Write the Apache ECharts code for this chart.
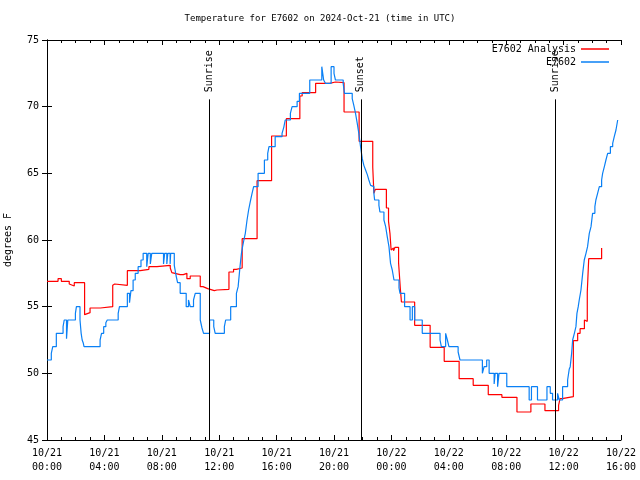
<!DOCTYPE html>
<html>
<head>
<meta charset="utf-8">
<script src="https://cdn.jsdelivr.net/npm/echarts@6/dist/echarts.min.js"></script>
<style>html,body{margin:0;padding:0;background:#fff}#c{width:640px;height:480px}</style>
</head>
<body>
<div id="c"></div>
<script>
// hours since 10/21 00:00 UTC, value in degrees F (value holds until next point)
const analysisTimes = [0,0.77,1.0,1.55,1.66,1.9,2.62,2.72,3.0,3.72,3.85,4.58,4.65,4.72,5.6,6.5,7.1,7.66,8.59,8.7,8.82,9.28,9.4,9.5,9.75,9.98,10.68,10.87,11.2,11.66,11.84,12.68,13.0,13.19,13.6,14.64,15.65,16.68,17.62,17.78,18.72,19.7,20.1,20.7,21.75,22.7,22.78,22.88,23.65,23.8,23.9,23.98,24.05,24.15,24.25,24.5,24.62,24.7,25.62,26.7,27.68,28.72,29.7,30.75,31.7,32.75,33.72,34.7,35.65,35.75,35.9,36.68,36.98,37.15,37.45,37.5,37.65,37.75,38.65];
const analysisValues = [56.9,57.1,56.9,56.7,56.55,56.8,54.4,54.55,54.9,54.8,55,56.6,56.7,56.6,57.7,57.8,58.0,58.1,57.9,57.55,57.4,57.5,57.4,57.5,57.1,57.3,56.5,56.35,56.2,56.25,56.3,57.6,57.8,57.9,60.1,64.45,67.8,69.1,70.8,71.05,71.75,71.85,71.8,69.6,67.4,65.45,63.5,63.8,62.4,61.4,60.5,59.25,59.4,59.2,59.45,58.3,56.4,55.35,53.6,51.95,50.9,49.6,49.1,48.4,48.2,47.1,47.7,47.2,47.6,48.1,48.25,52.45,53,53.35,54,53.9,56.1,58.6,59.4];

const obsTimes = [0,0.3,0.4,0.65,1.12,1.2,1.36,1.45,1.98,2.05,2.3,2.38,2.45,2.52,2.58,3.7,3.8,3.95,4.1,4.2,4.96,5.05,5.6,5.75,5.85,6.0,6.15,6.35,6.55,6.7,6.95,7.05,7.2,7.3,8.12,8.2,8.35,8.42,8.58,8.62,8.87,9.0,9.1,9.28,9.7,9.86,9.98,10.21,10.33,10.68,10.8,10.91,11.33,11.62,11.72,12.36,12.45,12.8,13.2,13.32,13.45,13.55,13.63,13.72,13.82,13.94,14.05,14.17,14.29,14.4,14.71,15.15,15.38,15.47,15.9,16.38,16.5,16.6,16.96,17.08,17.43,17.59,18.31,19.15,19.28,19.4,19.8,20.0,20.1,20.64,20.73,21.27,21.38,21.5,21.62,21.73,21.85,21.97,22.08,22.2,22.32,22.43,22.55,22.66,22.78,22.83,23.13,23.2,23.48,23.6,23.71,23.83,23.94,24.06,24.18,24.53,24.6,24.92,25.3,25.46,25.62,26.15,27.39,27.48,27.78,27.9,28.01,28.65,28.78,30.34,30.46,30.64,30.81,31.16,31.23,31.4,31.5,32.04,33.6,33.76,34.18,34.84,35.07,35.23,35.58,35.7,35.93,36.28,36.39,36.46,36.56,36.63,36.75,36.86,36.93,37.02,37.09,37.21,37.33,37.44,37.56,37.67,37.79,37.91,38.02,38.18,38.25,38.37,38.49,38.65,38.72,38.84,38.95,39.07,39.26,39.42,39.53,39.65,39.77,39.8];
const obsValues = [51,51.5,52,53,53.5,54,52.6,54,54.5,55,54,53,52.5,52.3,52,52.5,53,53.5,53.8,54,54.5,55,56,55.3,56.2,57,57.5,58,58.5,59,58,59,58.2,59,58.2,59,58.2,59,58.2,59,58.1,57.3,56.8,56,55,55.5,55,55.5,56,54,53.4,53,54,53.5,53,53.5,54,55,56,56.5,58,59,59.5,60,60.5,61.5,62.25,62.9,63.5,64,65,66,66.5,67,67.75,68,68.45,69,69.5,70,70.4,71,72,73,72,71.75,73,72.5,72,71.75,71,70.6,70.1,69.5,68.75,68,67,66.1,65.6,65.25,64.9,64.5,64.1,64,63.5,63,62.6,62.1,61.5,61,60.25,59.5,58.25,57.75,57,56.4,56,55,54,55,54,53,52.5,52,53,52.5,52,51.6,51,50,50.5,51,50,49.2,50,49,50,49,48,49,48,49,48.5,48,48.5,48,49,49.5,50.3,50.5,51.5,52.5,53,53.5,54.5,55,55.5,56.25,57.5,58.5,59,59.5,60.5,61,62,62.5,63,63.5,64,64.5,65,65.5,66,66.5,67,67.25,67.75,68.25,69,69];

const sunEventTimes = [11.33, 21.87, 35.41];
const sunEventLabels = ['Sunrise', 'Sunset', 'Sunrise'];
const sunLineTop = 70.55;

const xTickLabels = ['10/21\n00:00','10/21\n04:00','10/21\n08:00','10/21\n12:00','10/21\n16:00','10/21\n20:00','10/22\n00:00','10/22\n04:00','10/22\n08:00','10/22\n12:00','10/22\n16:00'];
const seriesNames = ['E7602 Analysis', 'E7602'];

const FONT = 'DejaVu Sans Mono';
const pairs = (t, v) => t.map((x, i) => [x, v[i]]);

const markData = [];
sunEventTimes.forEach((t, i) => {
  markData.push([{ coord: [t, 45] }, { coord: [t, sunLineTop] }]);
  markData.push([
    { coord: [t, sunLineTop], lineStyle: { color: 'rgba(0,0,0,0)', width: 0 },
      label: { show: true, formatter: sunEventLabels[i], position: 'insideStart', distance: 7,
               color: '#000', fontFamily: FONT, fontSize: 10 } },
    { coord: [t, 75] }
  ]);
});

const axisCommon = {
  type: 'value', axisLine: { show: true, lineStyle: { color: '#000', width: 1 } },
  axisTick: { show: true, inside: true, length: 5, lineStyle: { color: '#000' } },
  splitLine: { show: false }
};

const legendCommon = { right: 31, padding: 0, align: 'right', icon: 'rect', itemWidth: 28, itemHeight: 1.5,
  textStyle: { fontFamily: FONT, fontSize: 10, color: '#000' } };

const chart = echarts.init(document.getElementById('c'), null, { renderer: 'canvas' });
chart.setOption({
  animation: false,
  backgroundColor: '#fff',
  title: { text: 'Temperature for E7602 on 2024-Oct-21 (time in UTC)', left: 'center', top: 14, padding: 0,
           textStyle: { fontFamily: FONT, fontSize: 9, fontWeight: 'normal', color: '#000' } },
  grid: { left: 47, right: 19, top: 40, bottom: 40, containLabel: false, outerBoundsMode: 'none' },
  legend: [
    Object.assign({}, legendCommon, { data: [seriesNames[0]], top: 44 }),
    Object.assign({}, legendCommon, { data: [seriesNames[1]], top: 57 })
  ],
  xAxis: [
    Object.assign({}, axisCommon, { position: 'bottom', min: 0, max: 40, interval: 4,
      minorTick: { show: true, splitNumber: 4, length: 3, lineStyle: { color: '#000' } },
      axisLabel: { margin: 6, fontFamily: FONT, fontSize: 10, color: '#000', lineHeight: 14,
                   formatter: v => xTickLabels[Math.round(v / 4)] } }),
    Object.assign({}, axisCommon, { position: 'top', min: 0, max: 40, interval: 4,
      minorTick: { show: true, splitNumber: 4, length: 3, lineStyle: { color: '#000' } },
      axisLabel: { show: false } })
  ],
  yAxis: [
    Object.assign({}, axisCommon, { position: 'left', min: 45, max: 75, interval: 5,
      name: 'degrees F', nameLocation: 'middle', nameGap: 34, nameRotate: 90,
      nameTextStyle: { fontFamily: FONT, fontSize: 10, color: '#000' },
      axisLabel: { margin: 8, fontFamily: FONT, fontSize: 10, color: '#000' } }),
    Object.assign({}, axisCommon, { position: 'right', min: 45, max: 75, interval: 5,
      axisLabel: { show: false } })
  ],
  series: [
    { name: seriesNames[0], type: 'line', step: 'end', symbol: 'none', xAxisIndex: 0, yAxisIndex: 0,
      data: pairs(analysisTimes, analysisValues), color: '#ff0000',
      lineStyle: { color: '#ff0000', width: 1.2 },
      markLine: { silent: true, symbol: ['none', 'none'], animation: false,
                  lineStyle: { color: '#000', type: 'solid', width: 1 }, label: { show: false },
                  data: markData } },
    { name: seriesNames[1], type: 'line', step: 'end', symbol: 'none', xAxisIndex: 0, yAxisIndex: 0,
      data: pairs(obsTimes, obsValues), color: '#0a80f5',
      lineStyle: { color: '#0a80f5', width: 1.2 } }
  ]
});
</script>
</body>
</html>
